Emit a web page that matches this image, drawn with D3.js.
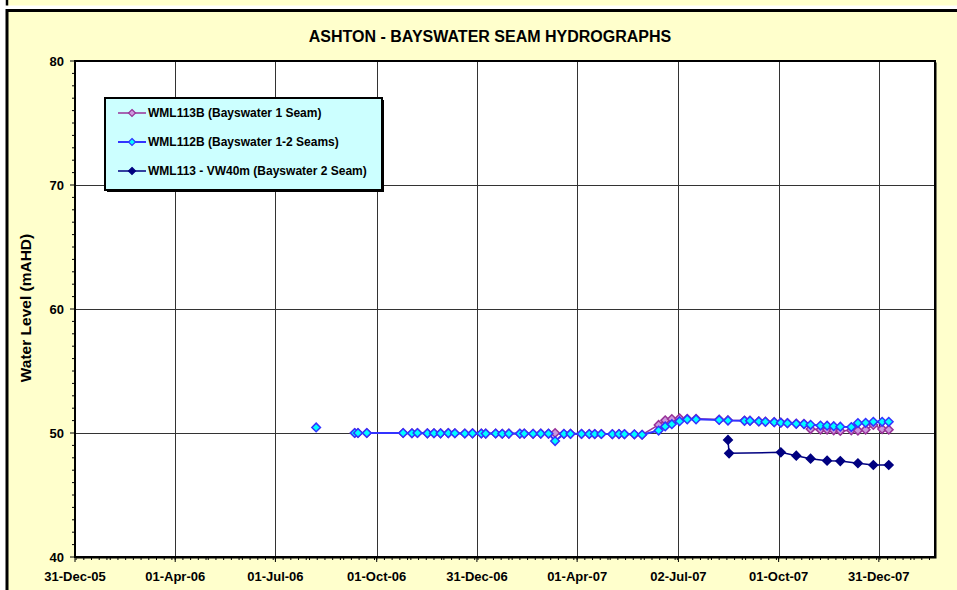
<!DOCTYPE html>
<html lang="en">
<head>
  <meta charset="UTF-8">
  <title>Ashton - Bayswater Seam Hydrographs</title>
  <style>
    body { margin: 0; background: #fff; overflow: hidden; }
    svg { display: block; font-family: "Liberation Sans", Arial, sans-serif; font-weight: bold; }
    .grid line { stroke: #333; stroke-width: 1px; shape-rendering: crispEdges; }
    .tick-label { font-size: 13px; fill: #000; }
  </style>
</head>
<body>
  <script src="https://cdn.jsdelivr.net/npm/d3@7"></script>
  <script>
    // sample dates shared by the two standpipe piezometers (null rows = no reading)
    const sampleDates = [
      "2006-08-07", "2006-08-28", "2006-09-11", "2006-09-14", "2006-09-22",
      "2006-10-25", "2006-11-02", "2006-11-07", "2006-11-16", "2006-11-22",
      "2006-11-28", "2006-12-05", "2006-12-11", "2006-12-20", "2006-12-27",
      "2007-01-04", "2007-01-08", "2007-01-17", "2007-01-23", "2007-01-29",
      "2007-02-08", "2007-02-12", "2007-02-20", "2007-02-27", "2007-03-06",
      "2007-03-12", "2007-03-20", "2007-03-26", "2007-04-05", "2007-04-12",
      "2007-04-17", "2007-04-23", "2007-05-03", "2007-05-09", "2007-05-14",
      "2007-05-23", "2007-05-30", "2007-06-14", "2007-06-20", "2007-06-26",
      "2007-07-03", "2007-07-10", "2007-07-18", "2007-08-08", "2007-08-16",
      "2007-08-31", "2007-09-05", "2007-09-13", "2007-09-19", "2007-09-27",
      "2007-10-03", "2007-10-09", "2007-10-17", "2007-10-24", "2007-10-30",
      "2007-11-08", "2007-11-14", "2007-11-20", "2007-11-26", "2007-12-06",
      "2007-12-12", "2007-12-19", "2007-12-26", "2008-01-03", "2008-01-09"
    ];

    const wml113b = [
      null, null, 50.0, 50.0, 50.0,
      50.0, 49.98, 50.0, 49.97, 49.98,
      49.97, 49.99, 49.98, 49.96, 49.97,
      49.96, 49.95, 49.96, 49.94, 49.95,
      49.94, 49.95, 49.93, 49.95, 49.94,
      50.0, 49.92, 49.93, 49.92, 49.92,
      49.91, 49.92, 49.9, 49.91, 49.9,
      49.88, 49.86, 50.65, 51.02, 51.13,
      51.18, 51.14, 51.14, 51.08, 51.03,
      51.0, 50.99, 50.94, 50.92, 50.88,
      50.84, 50.8, 50.76, 50.74, 50.32,
      50.27, 50.27, 50.22, 50.17, 50.22,
      50.2, 50.27, 50.65, 50.32, 50.27
    ];

    const wml112b = [
      50.45, null, 50.0, 50.0, 50.0,
      50.0, 49.98, 50.0, 49.97, 49.98,
      49.97, 49.99, 49.98, 49.96, 49.97,
      49.96, 49.95, 49.96, 49.94, 49.95,
      49.95, 49.95, 49.94, 49.95, 49.95,
      49.35, 49.93, 49.93, 49.93, 49.92,
      49.92, 49.92, 49.91, 49.92, 49.91,
      49.9, 49.86, 50.2, 50.53, 50.71,
      50.95, 51.1, 51.1, 51.05, 51.0,
      50.98, 50.98, 50.93, 50.9, 50.87,
      50.83, 50.79, 50.74, 50.72, 50.66,
      50.6, 50.59, 50.55, 50.51, 50.48,
      50.8, 50.82, 50.9, 50.9, 50.9
    ];

    // vibrating wire piezometer at 40 m
    const vw40Dates = [
      "2007-08-16", "2007-08-17", "2007-10-03", "2007-10-17", "2007-10-30",
      "2007-11-14", "2007-11-26", "2007-12-12", "2007-12-26", "2008-01-09"
    ];
    const wml113vw40 = [49.44, 48.36, 48.44, 48.17, 47.93, 47.77, 47.74, 47.56, 47.42, 47.42];

    const xTickLabels = ["31-Dec-05", "01-Apr-06", "01-Jul-06", "01-Oct-06", "31-Dec-06",
                         "01-Apr-07", "02-Jul-07", "01-Oct-07", "31-Dec-07"];
    const yTicks = [40, 50, 60, 70, 80];
    const seriesNames = ["WML113B (Bayswater 1 Seam)", "WML112B (Bayswater 1-2 Seams)", "WML113 - VW40m (Bayswater 2 Seam)"];

    const parseIso = d3.timeParse("%Y-%m-%d");
    const parseTick = d3.timeParse("%d-%b-%y");

    const width = 957, height = 590;
    const plot = {left: 75, right: 935, top: 61, bottom: 557};

    const x = d3.scaleTime()
      .domain([parseTick("31-Dec-05"), parseIso("2008-02-20")])
      .range([plot.left, plot.right]);
    const y = d3.scaleLinear().domain([40, 80]).range([plot.bottom, plot.top]);

    const series = [
      {name: seriesNames[0], line: "#993399", fill: "#CC99DD", stroke: "#993399", width: 1.5,
       data: sampleDates.map((d, i) => ({date: parseIso(d), value: wml113b[i]}))},
      {name: seriesNames[1], line: "#3333FF", fill: "#00FFFF", stroke: "#3333FF", width: 2,
       data: sampleDates.map((d, i) => ({date: parseIso(d), value: wml112b[i]}))},
      {name: seriesNames[2], line: "#000080", fill: "#000080", stroke: "#000080", width: 1.5,
       data: vw40Dates.map((d, i) => ({date: parseIso(d), value: wml113vw40[i]}))}
    ];

    const svg = d3.select("body").append("svg").attr("width", width).attr("height", height);

    // bit of the previous chart box above (no bottom edge visible), then this chart's box
    svg.append("rect").attr("x", 7).attr("y", 0).attr("width", 1000).attr("height", 5.5).attr("fill", "#FFFFCC");
    svg.append("line").attr("x1", 7).attr("x2", 7).attr("y1", 0).attr("y2", 5.5)
      .attr("stroke", "#000").attr("stroke-width", 2.5);
    svg.append("rect").attr("x", 7).attr("y", 10.5).attr("width", 1000).attr("height", 620)
      .attr("fill", "#FFFFCC").attr("stroke", "#000").attr("stroke-width", 3);

    svg.append("text").attr("x", 490).attr("y", 42).attr("text-anchor", "middle")
      .attr("font-size", "16px").text("ASHTON - BAYSWATER SEAM HYDROGRAPHS");

    // plot area
    svg.append("rect").attr("x", plot.left + 1.5).attr("y", plot.top + 1.5)
      .attr("width", plot.right - plot.left).attr("height", plot.bottom - plot.top).attr("fill", "#000");
    svg.append("rect").attr("x", plot.left).attr("y", plot.top)
      .attr("width", plot.right - plot.left).attr("height", plot.bottom - plot.top).attr("fill", "#fff");

    const xTickDates = xTickLabels.map(parseTick);

    const grid = svg.append("g").attr("class", "grid");
    grid.selectAll(".v").data(xTickDates.slice(1)).enter().append("line")
      .attr("x1", d => Math.round(x(d)) + 0.5).attr("x2", d => Math.round(x(d)) + 0.5)
      .attr("y1", plot.top).attr("y2", plot.bottom);
    grid.selectAll(".h").data(yTicks.filter(v => v > 40 && v < 80)).enter().append("line")
      .attr("x1", plot.left).attr("x2", plot.right)
      .attr("y1", d => Math.round(y(d)) + 0.5).attr("y2", d => Math.round(y(d)) + 0.5);

    svg.append("rect").attr("x", plot.left).attr("y", plot.top)
      .attr("width", plot.right - plot.left).attr("height", plot.bottom - plot.top)
      .attr("fill", "none").attr("stroke", "#000").attr("stroke-width", 2);

    // y axis: major + minor ticks every 1 m
    const yMinor = d3.range(40, 81, 1);
    svg.append("g").selectAll("line").data(yMinor).enter().append("line")
      .attr("x1", d => d % 10 === 0 ? plot.left - 5 : plot.left - 3).attr("x2", plot.left)
      .attr("y1", d => y(d)).attr("y2", d => y(d))
      .attr("stroke", "#000").attr("stroke-width", 1);
    svg.append("g").selectAll("text").data(yTicks).enter().append("text")
      .attr("class", "tick-label").attr("x", plot.left - 11).attr("y", d => y(d) + 4.5)
      .attr("text-anchor", "end").text(d => d);

    // x axis: major at labelled dates, minor weekly
    const xMinor = d3.timeDay.every(7).range(x.domain()[0], x.domain()[1]);
    svg.append("g").selectAll("line").data(xMinor).enter().append("line")
      .attr("x1", d => x(d)).attr("x2", d => x(d))
      .attr("y1", plot.bottom).attr("y2", plot.bottom + 3)
      .attr("stroke", "#000").attr("stroke-width", 1);
    svg.append("g").selectAll("line").data(xTickDates).enter().append("line")
      .attr("x1", d => x(d)).attr("x2", d => x(d))
      .attr("y1", plot.bottom).attr("y2", plot.bottom + 5)
      .attr("stroke", "#000").attr("stroke-width", 1);
    svg.append("g").selectAll("text").data(xTickLabels).enter().append("text")
      .attr("class", "tick-label").attr("x", d => x(parseTick(d))).attr("y", 581)
      .attr("text-anchor", "middle").text(d => d);

    svg.append("text").attr("transform", "translate(31,308) rotate(-90)")
      .attr("text-anchor", "middle").attr("font-size", "15.5px").text("Water Level (mAHD)");

    // series
    const diamond = "M0,-4.3L4.3,0L0,4.3L-4.3,0Z";
    const line = d3.line().defined(d => d.value !== null)
      .x(d => x(d.date)).y(d => y(d.value));

    series.forEach(s => {
      const g = svg.append("g");
      g.append("path").datum(s.data).attr("d", line)
        .attr("fill", "none").attr("stroke", s.line).attr("stroke-width", s.width);
      g.selectAll("path.pt").data(s.data.filter(d => d.value !== null)).enter().append("path")
        .attr("class", "pt").attr("d", diamond)
        .attr("transform", d => `translate(${x(d.date)},${y(d.value)})`)
        .attr("fill", s.fill).attr("stroke", s.stroke).attr("stroke-width", 1.5);
    });

    // legend
    const lg = svg.append("g");
    lg.append("rect").attr("x", 107).attr("y", 100).attr("width", 277).attr("height", 92).attr("fill", "#000");
    lg.append("rect").attr("x", 105).attr("y", 98).attr("width", 277).attr("height", 92)
      .attr("fill", "#CCFFFF").attr("stroke", "#000").attr("stroke-width", 2);
    series.forEach((s, i) => {
      const cy = 113 + i * 29;
      lg.append("line").attr("x1", 118).attr("x2", 146).attr("y1", cy).attr("y2", cy)
        .attr("stroke", s.line).attr("stroke-width", s.width);
      lg.append("path").attr("d", "M0,-3.5L3.5,0L0,3.5L-3.5,0Z").attr("transform", `translate(132,${cy})`)
        .attr("fill", s.fill).attr("stroke", s.stroke).attr("stroke-width", 1.2);
      lg.append("text").attr("x", 148).attr("y", cy + 4.3).attr("font-size", "12px").text(s.name);
    });
  </script>
</body>
</html>
